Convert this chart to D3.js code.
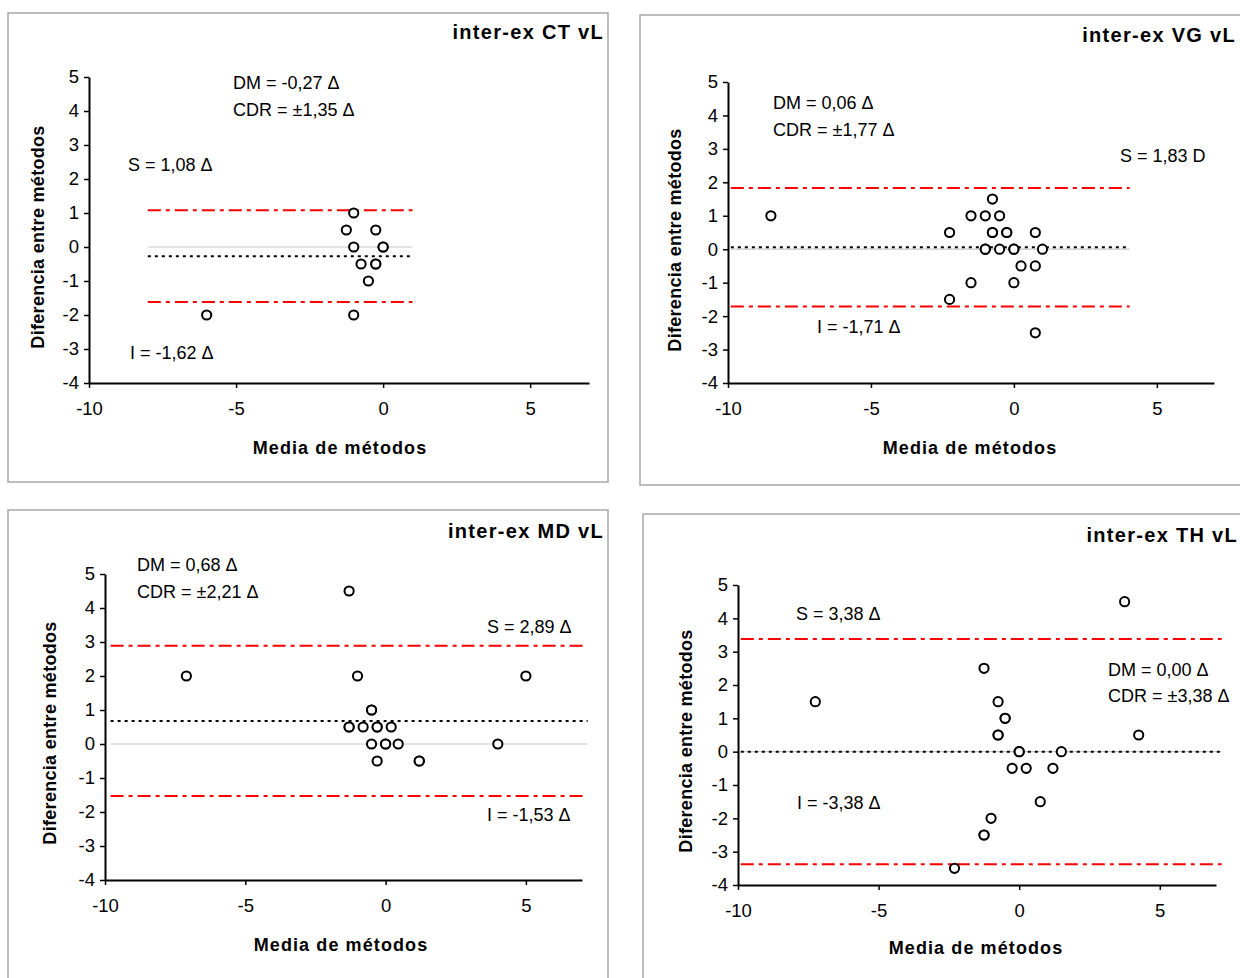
<!DOCTYPE html>
<html>
<head>
<meta charset="utf-8">
<script src="https://cdn.jsdelivr.net/npm/d3@7"></script>
<style>
	body { margin: 0; background: #fff; }
	text { font-family: "Liberation Sans", Arial, sans-serif; fill: #000; }
</style>
</head>
<body>
<div id="svg-container"></div>
<script>
// ticks shared by the four panels
var xTicks = [-10, -5, 0, 5];
var yTicks = [-4, -3, -2, -1, 0, 1, 2, 3, 4, 5];

// inter-ex CT vL
var ctMean = [-1.0, -1.25, -0.25, -1.0, 0.0, 0.0, -0.75, -0.25, -0.25, -0.5, -6.0, -1.0];
var ctDiff = [1.0, 0.5, 0.5, 0.0, 0.0, 0.0, -0.5, -0.5, -0.5, -1.0, -2.0, -2.0];
var ctLimits = [-0.27, 1.08, -1.62];   // DM, S, I
var ctSpan = [-8, 1];

// inter-ex VG vL
var vgMean = [-8.5, -2.25, -2.25, -1.5, -1.5, -1.0, -1.0, -1.0, -0.75, -0.75, -0.75, -0.5, -0.5,
	-0.25, -0.25, 0.0, 0.0, 0.0, 0.25, 0.75, 0.75, 0.75, 1.0];
var vgDiff = [1.0, 0.5, -1.5, 1.0, -1.0, 1.0, 0.0, 0.0, 1.5, 0.5, 0.5, 1.0, 0.0,
	0.5, 0.5, 0.0, 0.0, -1.0, -0.5, 0.5, -0.5, -2.5, 0.0];
var vgLimits = [0.06, 1.83, -1.71];
var vgSpan = [-9.9, 4.05];

// inter-ex MD vL
var mdMean = [-1.3, -7.1, -1.0, 5.0, -0.5, -0.5, -1.3, -1.3, -0.8, -0.3, -0.3, 0.2,
	-0.5, 0.0, 0.0, 0.45, 4.0, -0.3, 1.2, 1.2];
var mdDiff = [4.5, 2.0, 2.0, 2.0, 1.0, 1.0, 0.5, 0.5, 0.5, 0.5, 0.5, 0.5,
	0.0, 0.0, 0.0, 0.0, 0.0, -0.5, -0.5, -0.5];
var mdLimits = [0.68, 2.89, -1.53];
var mdSpan = [-9.8, 7.2];

// inter-ex TH vL
var thMean = [3.75, -7.25, -1.25, -0.75, -0.5, -0.5, -0.75, -0.75, 0.0, 0.0, 1.5, 4.25,
	-0.25, 0.25, 1.2, 0.75, -1.0, -1.25, -1.25, -2.3];
var thDiff = [4.5, 1.5, 2.5, 1.5, 1.0, 1.0, 0.5, 0.5, 0.0, 0.0, 0.0, 0.5,
	-0.5, -0.5, -0.5, -1.5, -2.0, -2.5, -2.5, -3.5];
var thLimits = [0.00, 3.38, -3.38];
var thSpan = [-9.9, 7.2];

var svg = d3.select('#svg-container')
	.append('svg')
	.attr('width', 1240)
	.attr('height', 978);

function createScale(range, dom){
	return d3.scaleLinear()
	.range(range)
	.domain(dom);
}

function hLine(g, x, y, span, value, color, width, dash) {
	return g.append('line')
		.attr('x1', x(span[0]))
		.attr('x2', x(span[1]))
		.attr('y1', y(value))
		.attr('y2', y(value))
		.attr('stroke', color)
		.attr('stroke-width', width)
		.attr('stroke-dasharray', dash);
}

function writeLabel(g, str, x, y, opts) {
	var t = g.append('text')
		.text(str)
		.attr('x', x)
		.attr('y', y)
		.style('font-size', opts.size + 'px');
	if (opts.bold) t.style('font-weight', 'bold');
	if (opts.anchor) t.attr('text-anchor', opts.anchor);
	if (opts.spacing) t.style('letter-spacing', opts.spacing + 'px');
	if (opts.rotate) t.attr('transform', 'rotate(-90,' + x + ',' + y + ')');
	return t;
}

function drawPanel(p) {
	var g = svg.append('g');

	// frame
	g.append('rect')
		.attr('x', p.box[0])
		.attr('y', p.box[1])
		.attr('width', p.box[2])
		.attr('height', p.box[3])
		.attr('fill', 'none')
		.attr('stroke', '#A6A6A6')
		.attr('stroke-width', 1.5);

	var x = createScale([p.plot[0], p.plot[1]], [-10, 7]);
	var y = createScale([p.plot[3], p.plot[2]], [-4, 5]);

	// reference lines
	hLine(g, x, y, p.span, 0, '#C8C8C8', 1.2, null);
	hLine(g, x, y, p.span, p.limits[1], '#FF0000', 2, '13,5,4,5');
	hLine(g, x, y, p.span, p.limits[2], '#FF0000', 2, '13,5,4,5');
	hLine(g, x, y, p.span, p.limits[0], '#000', 2, '3,4');

	// axes
	var yAxis = g.append('g')
		.attr('transform', 'translate(' + p.plot[0] + ',0)')
		.call(d3.axisLeft(y).tickValues(yTicks).tickSize(5).tickSizeOuter(0)
			.tickPadding(5).tickFormat(function(d){ return String(d); }));
	var xAxis = g.append('g')
		.attr('transform', 'translate(0,' + p.plot[3] + ')')
		.call(d3.axisBottom(x).tickValues(xTicks).tickSize(5).tickSizeOuter(0)
			.tickPadding(14).tickFormat(function(d){ return String(d); }));
	[yAxis, xAxis].forEach(function(a){
		a.select('.domain').attr('stroke', '#000').attr('stroke-width', 2);
		a.selectAll('.tick line').attr('stroke', '#000').attr('stroke-width', 1.5);
		a.selectAll('.tick text')
			.style('font-family', '"Liberation Sans", Arial, sans-serif')
			.style('font-size', '18.5px')
			.attr('fill', '#000');
	});

	// points
	var pts = p.mean.map(function(m, i){ return [m, p.diff[i]]; });
	g.selectAll('circle.pt')
		.data(pts)
		.enter()
		.append('circle')
		.attr('class', 'pt')
		.attr('cx', function(d){ return x(d[0]); })
		.attr('cy', function(d){ return y(d[1]); })
		.attr('r', 4.6)
		.attr('fill', '#fff')
		.attr('stroke', '#000')
		.attr('stroke-width', 2);

	// texts
	writeLabel(g, p.title, p.titlePos[0], p.titlePos[1], {size: 20, bold: true, anchor: 'end', spacing: 1.3});
	writeLabel(g, 'Media de métodos', p.xLab[0], p.xLab[1], {size: 18, bold: true, anchor: 'middle', spacing: 1.1});
	writeLabel(g, 'Diferencia entre métodos', p.yLab[0], p.yLab[1], {size: 18, bold: true, anchor: 'middle', spacing: 0.3, rotate: true});
	p.notes.forEach(function(n){
		writeLabel(g, n[0], n[1], n[2], {size: 18});
	});
}

drawPanel({
	box: [8, 13, 600, 469], plot: [89, 589, 77, 383],
	mean: ctMean, diff: ctDiff, limits: ctLimits, span: ctSpan,
	title: 'inter-ex CT vL', titlePos: [604, 39],
	xLab: [340, 454], yLab: [44, 237],
	notes: [['DM = -0,27 Δ', 233, 89], ['CDR = ±1,35 Δ', 233, 116],
		['S = 1,08 Δ', 128, 171], ['I = -1,62 Δ', 130, 359]]
});

drawPanel({
	box: [640, 15, 610, 470], plot: [728, 1214, 82, 383],
	mean: vgMean, diff: vgDiff, limits: vgLimits, span: vgSpan,
	title: 'inter-ex VG vL', titlePos: [1236, 42],
	xLab: [970, 454], yLab: [681, 240],
	notes: [['DM = 0,06 Δ', 773, 109], ['CDR = ±1,77 Δ', 773, 136],
		['S = 1,83 D', 1120, 162], ['I = -1,71 Δ', 817, 333]]
});

drawPanel({
	box: [8, 510, 600, 480], plot: [105, 582, 574, 880],
	mean: mdMean, diff: mdDiff, limits: mdLimits, span: mdSpan,
	title: 'inter-ex MD vL', titlePos: [604, 538],
	xLab: [341, 951], yLab: [56, 733],
	notes: [['DM = 0,68 Δ', 137, 571], ['CDR = ±2,21 Δ', 137, 598],
		['S = 2,89 Δ', 487, 633], ['I = -1,53 Δ', 487, 821]]
});

drawPanel({
	box: [643, 514, 610, 480], plot: [738, 1216, 585, 885],
	mean: thMean, diff: thDiff, limits: thLimits, span: thSpan,
	title: 'inter-ex TH vL', titlePos: [1238, 542],
	xLab: [976, 954], yLab: [692, 741],
	notes: [['S = 3,38 Δ', 796, 620], ['DM = 0,00 Δ', 1108, 676],
		['CDR = ±3,38 Δ', 1108, 702], ['I = -3,38 Δ', 797, 809]]
});
</script>
</body>
</html>
